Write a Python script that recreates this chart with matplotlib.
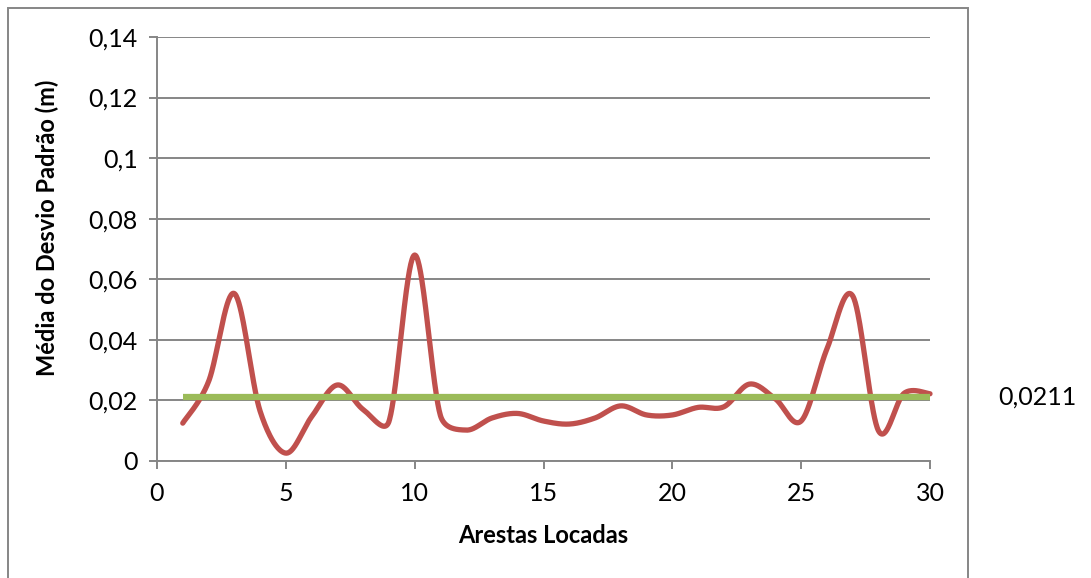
import numpy as np
import matplotlib
matplotlib.use("Agg")
import matplotlib.pyplot as plt
from matplotlib.patches import Rectangle

# Data
arestas = list(range(1, 31))
desvio = [0.0125, 0.0262, 0.0553, 0.0165, 0.0026, 0.0146, 0.0251, 0.0170, 0.0130, 0.0680,
          0.0150, 0.0102, 0.0142, 0.0157, 0.0132, 0.0122, 0.0142, 0.0182, 0.0152, 0.0152,
          0.0177, 0.0179, 0.0254, 0.0205, 0.0132, 0.0370, 0.0545, 0.0100, 0.0224, 0.0222]
media = 0.0211
media_label = "0,0211"
y_ticks = [0, 0.02, 0.04, 0.06, 0.08, 0.1, 0.12, 0.14]
y_ticklabels = ["0", "0,02", "0,04", "0,06", "0,08", "0,1", "0,12", "0,14"]
x_ticks = [0, 5, 10, 15, 20, 25, 30]
x_label = "Arestas Locadas"
y_label = "Média do Desvio Padrão (m)"


def smooth_curve(pts, n=40):
    """Bezier smoothing through every point, with control arms limited to half
    the segment length (spreadsheet-style smoothed line). Works in pixel space."""
    p = np.asarray(pts, float)
    p = np.vstack([p[0], p, p[-1]])
    out = []
    f = 1.0 / 6.0
    for i in range(1, len(p) - 2):
        p0, p1, p2, p3 = p[i - 1], p[i], p[i + 1], p[i + 2]
        d12 = np.hypot(*(p2 - p1))
        d02 = np.hypot(*(p2 - p0))
        d13 = np.hypot(*(p3 - p1))
        f1 = f if d02 * f < d12 / 2 or d02 == 0 else d12 / d02 / 2
        f2 = f if d13 * f < d12 / 2 or d13 == 0 else d12 / d13 / 2
        c1 = p1 + (p2 - p0) * f1
        c2 = p2 - (p3 - p1) * f2
        t = np.linspace(0, 1, n, endpoint=(i == len(p) - 3))[:, None]
        seg = ((1 - t) ** 3) * p1 + 3 * ((1 - t) ** 2) * t * c1 + 3 * (1 - t) * t ** 2 * c2 + t ** 3 * p2
        out.append(seg)
    return np.vstack(out)


plt.rcParams["font.family"] = ["Lato", "DejaVu Sans"]

W, H = 1091, 578
fig = plt.figure(figsize=(W / 100, H / 100), dpi=100)
ax = fig.add_axes([157 / W, (H - 461) / H, (930 - 157) / W, (461 - 37) / H])

grid_col = "#868686"
ax.set_xlim(0, 30)
ax.set_ylim(0, 0.14)
ax.set_yticks(y_ticks)
ax.set_yticklabels(y_ticklabels)
ax.set_xticks(x_ticks)
ax.yaxis.grid(True, color=grid_col, linewidth=1.4)
ax.set_axisbelow(True)
for s in ["top", "right"]:
    ax.spines[s].set_visible(False)
for s in ["left", "bottom"]:
    ax.spines[s].set_color(grid_col)
    ax.spines[s].set_linewidth(1.4)
ax.tick_params(axis="both", direction="out", length=6, width=1.4, color=grid_col,
               labelsize=18, labelcolor="black")
ax.tick_params(axis="y", pad=8)
ax.tick_params(axis="x", pad=9)

# Smoothed series computed in display space, then mapped back to data coordinates
disp = ax.transData.transform(np.column_stack([arestas, desvio]))
curve = ax.transData.inverted().transform(smooth_curve(disp))
ax.plot(curve[:, 0], curve[:, 1], color="#C0504D", linewidth=3.8,
        solid_capstyle="round", clip_on=False, zorder=3)
ax.plot([arestas[0], arestas[-1]], [media, media], color="#9BBB59", linewidth=4.5,
        solid_capstyle="butt", clip_on=False, zorder=4)
ax.annotate(media_label, xy=(arestas[-1], media), xytext=(68, 0), textcoords="offset pixels",
            ha="left", va="center", fontsize=18, annotation_clip=False)

ax.set_xlabel(x_label, fontsize=17, fontweight="bold", labelpad=14)
ax.set_ylabel(y_label, fontsize=17, fontweight="bold")
ax.yaxis.set_label_coords(-0.127, 0.551)

# Outer chart frame (extends past the bottom edge)
fig.patches.append(Rectangle((8 / W, -0.1), (968 - 8) / W, 1.1 - 8 / H,
                             transform=fig.transFigure, fill=False,
                             edgecolor=grid_col, linewidth=1.4))

fig.savefig("out.png", dpi=100)
